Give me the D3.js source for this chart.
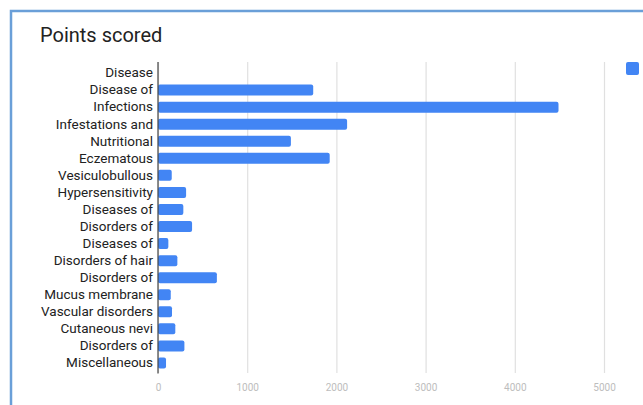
<!DOCTYPE html>
<html>
<head>
<meta charset="utf-8">
<script src="https://cdn.jsdelivr.net/npm/d3@7"></script>
<style>
  body { margin: 0; background: #fff; }
  svg { display: block; font-family: Roboto, Arial, sans-serif; }
</style>
</head>
<body>
<svg id="grafico"></svg>
<script>
// dados
const categorias = [
  'Disease', 'Disease of', 'Infections', 'Infestations and', 'Nutritional',
  'Eczematous', 'Vesiculobullous', 'Hypersensitivity', 'Diseases of',
  'Disorders of', 'Diseases of', 'Disorders of hair', 'Disorders of',
  'Mucus membrane', 'Vascular disorders', 'Cutaneous nevi', 'Disorders of',
  'Miscellaneous'
]
const pontos = [0, 1740, 4490, 2120, 1490, 1925, 154, 315, 284, 382, 116, 217, 660, 143, 157, 194, 296, 90]
const ticksX = [0, 1000, 2000, 3000, 4000, 5000]
const titulo = 'Points scored'

const dados = categorias.map((c, i) => ({chave: i, nome: c, valor: pontos[i]}))

const largura = 643, altura = 405
const svg = d3.select('#grafico')
  .attr('width', largura)
  .attr('height', altura)

const margens = {esquerda: 158, superior: 64.5}
const larguraPlotagem = 446
const alturaPlotagem = 307

// moldura azul
svg.append('rect')
  .attr('x', 11).attr('y', 11)
  .attr('width', 700).attr('height', 500)
  .attr('fill', 'none')
  .attr('stroke', '#6a9fd8')
  .attr('stroke-width', 2.5)

svg.append('text')
  .attr('x', 40).attr('y', 42)
  .attr('font-size', 20)
  .attr('fill', '#222')
  .text(titulo)

const plotagem = svg.append('g')
  .attr('transform', 'translate(' + margens.esquerda + ',' + margens.superior + ')')

const fnX = d3.scaleLinear()
  .domain([0, 5000])
  .range([0, larguraPlotagem])

const fnY = d3.scaleBand()
  .domain(dados.map(d => d.chave))
  .range([0, alturaPlotagem])
  .paddingInner(0.355)
  .paddingOuter(0.1775)

// grade
const grade = d3.axisBottom(fnX)
  .tickValues(ticksX)
  .tickSize(311)
  .tickFormat('')
plotagem.append('g')
  .attr('transform', 'translate(0,-2.5)')
  .call(grade)
  .call(g => g.select('.domain').remove())
  .call(g => g.selectAll('.tick line').attr('stroke', '#e0e0e0').attr('stroke-width', 1.2))

// rótulos do eixo x
const eixoX = d3.axisBottom(fnX)
  .tickValues(ticksX)
  .tickSize(0)
  .tickPadding(0)
  .tickFormat(d3.format('d'))
plotagem.append('g')
  .attr('transform', 'translate(0,' + (alturaPlotagem + 12) + ')')
  .call(eixoX)
  .call(g => g.select('.domain').remove())
  .call(g => g.selectAll('text').attr('font-size', 10).attr('fill', '#bdbdbd').attr('font-family', 'Roboto, Arial, sans-serif'))

// barras
plotagem.selectAll('.barra')
  .data(dados)
  .enter().append('rect')
  .classed('barra', true)
  .attr('x', 0)
  .attr('y', d => fnY(d.chave))
  .attr('width', d => fnX(d.valor))
  .attr('height', fnY.bandwidth())
  .attr('rx', 2)
  .attr('fill', '#4285f4')

// eixo y
const eixoY = d3.axisLeft(fnY)
  .tickSize(0)
  .tickPadding(5)
  .tickFormat(i => categorias[i])
plotagem.append('g')
  .call(eixoY)
  .call(g => g.select('.domain').remove())
  .call(g => g.selectAll('text').attr('font-size', 13.5).attr('fill', '#222').attr('font-family', 'Roboto, Arial, sans-serif'))

plotagem.append('line')
  .attr('x1', 0).attr('x2', 0)
  .attr('y1', -2.5).attr('y2', 309)
  .attr('stroke', '#444')
  .attr('stroke-width', 1.2)

// legenda
svg.append('rect')
  .attr('x', 626).attr('y', 62)
  .attr('width', 13).attr('height', 13)
  .attr('rx', 2)
  .attr('fill', '#4285f4')
</script>
</body>
</html>
